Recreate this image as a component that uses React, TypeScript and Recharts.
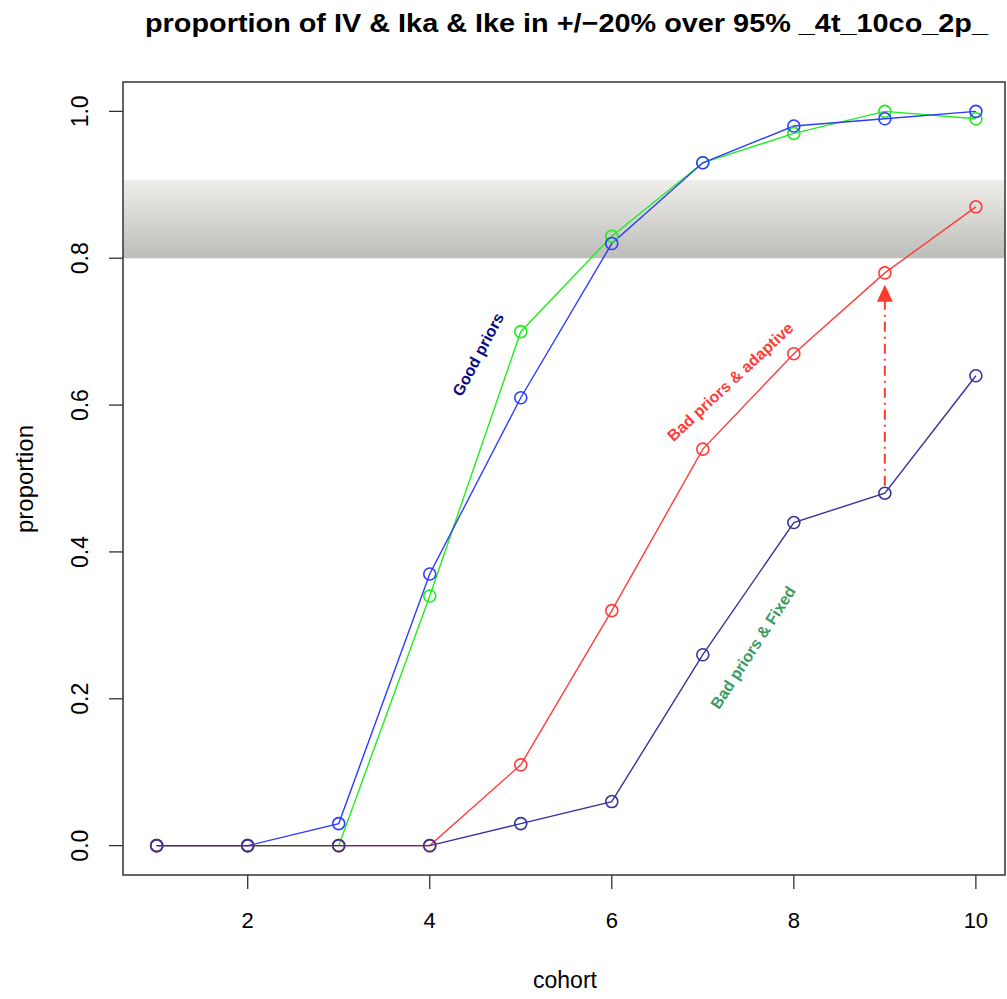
import {
  ComposedChart,
  Line,
  XAxis,
  YAxis,
  ReferenceArea,
  ReferenceLine,
  ReferenceDot,
} from 'recharts';

const cohorts = [1, 2, 3, 4, 5, 6, 7, 8, 9, 10];
const goodGreen = [0, 0, 0, 0.34, 0.7, 0.83, 0.93, 0.97, 1.0, 0.99];
const goodBlue = [0, 0, 0.03, 0.37, 0.61, 0.82, 0.93, 0.98, 0.99, 1.0];
const badAdaptive = [0, 0, 0, 0, 0.11, 0.32, 0.54, 0.67, 0.78, 0.87];
const badFixed = [0, 0, 0, 0, 0.03, 0.06, 0.26, 0.44, 0.48, 0.64];

const xTicks = [2, 4, 6, 8, 10];
const yTicks = [0, 0.2, 0.4, 0.6, 0.8, 1.0];

const bandLow = 0.8;
const bandHigh = 0.907;

const arrowX = 9;
const arrowFrom = 0.49;
const arrowTo = 0.764;

const labels = [
  { text: 'Good priors', x: 4.53, y: 0.669, angle: -62, color: '#0a0a80' },
  { text: 'Bad priors & adaptive', x: 7.3, y: 0.632, angle: -43, color: '#ff3b3b' },
  { text: 'Bad priors & Fixed', x: 7.55, y: 0.27, angle: -57, color: '#3c9a62' },
];

const data = cohorts.map((c, i) => ({
  cohort: c,
  green: goodGreen[i],
  blue: goodBlue[i],
  red: badAdaptive[i],
  navy: badFixed[i],
}));

const FONT = 'Liberation Sans, Arial, sans-serif';
const X_MIN = 0.63;
const X_MAX = 10.32;
const Y_MIN = -0.04;
const Y_MAX = 1.04;

const series = [
  { key: 'green', color: '#1fee1f' },
  { key: 'blue', color: '#2d3cff' },
  { key: 'red', color: '#ff3b3b' },
  { key: 'navy', color: '#34349a' },
];

function YTick(props: any) {
  const { y, payload } = props;
  return (
    <text
      x={80}
      y={y}
      transform={`rotate(-90, 80, ${y})`}
      textAnchor="middle"
      dy="0.36em"
      fontSize={23}
      fontFamily={FONT}
      fill="#000"
    >
      {payload.value.toFixed(1)}
    </text>
  );
}

function XTick(props: any) {
  const { x, payload } = props;
  return (
    <text x={x} y={920} textAnchor="middle" dy="0.36em" fontSize={22} fontFamily={FONT} fill="#000">
      {payload.value}
    </text>
  );
}

function makeLabel(l: (typeof labels)[number]) {
  return (p: any) => (
    <text
      x={p.cx}
      y={p.cy}
      transform={`rotate(${l.angle}, ${p.cx}, ${p.cy})`}
      textAnchor="middle"
      dy="0.36em"
      fontSize={16}
      fontWeight="bold"
      fontFamily={FONT}
      fill={l.color}
    >
      {l.text}
    </text>
  );
}

function ArrowHead(p: any) {
  const { cx, cy } = p;
  return <polygon points={`${cx},${cy} ${cx - 8},${cy + 17} ${cx + 8},${cy + 17}`} fill="#ff3b30" />;
}

export default function App() {
  return (
    <div style={{ position: 'absolute', left: 0, top: 0, width: 1007, height: 999, background: '#fff' }}>
      <ComposedChart
        width={1007}
        height={999}
        data={data}
        margin={{ top: 82, right: 2, bottom: 64, left: 63 }}
      >
        <defs>
          <linearGradient id="band" x1="0" y1="0" x2="0" y2="1">
            <stop offset="0%" stopColor="#efeeea" />
            <stop offset="100%" stopColor="#bdbdba" />
          </linearGradient>
        </defs>
        <text
          x={145}
          y={32}
          textAnchor="start"
          textLength={843}
          lengthAdjust="spacingAndGlyphs"
          fontSize={26}
          fontWeight="bold"
          fontFamily={FONT}
          fill="#000"
        >
          proportion of IV &amp; Ika &amp; Ike in +/−20% over 95% _4t_10co_2p_
        </text>
        <text x={565} y={988} textAnchor="middle" fontSize={23} fontFamily={FONT} fill="#000">
          cohort
        </text>
        <text
          x={24}
          y={479}
          transform="rotate(-90, 24, 479)"
          textAnchor="middle"
          dy="0.36em"
          fontSize={24}
          fontFamily={FONT}
          fill="#000"
        >
          proportion
        </text>
        <XAxis
          dataKey="cohort"
          type="number"
          domain={[X_MIN, X_MAX]}
          ticks={xTicks}
          allowDataOverflow
          axisLine={false}
          tickLine={{ stroke: '#333', strokeWidth: 1.3 }}
          tickSize={14}
          height={60}
          tick={<XTick />}
        />
        <YAxis
          type="number"
          domain={[Y_MIN, Y_MAX]}
          ticks={yTicks}
          allowDataOverflow
          axisLine={false}
          tickLine={{ stroke: '#333', strokeWidth: 1.3 }}
          tickSize={14}
          width={60}
          tick={<YTick />}
        />
        <ReferenceArea x1={X_MIN} x2={X_MAX} y1={bandLow} y2={bandHigh} fill="url(#band)" fillOpacity={1} stroke="none" />
        <ReferenceArea x1={X_MIN} x2={X_MAX} y1={Y_MIN} y2={Y_MAX} fill="none" stroke="#333" strokeWidth={1.5} />
        {series.map((s) => (
          <Line
            key={s.key}
            dataKey={s.key}
            stroke={s.color}
            strokeWidth={1.4}
            isAnimationActive={false}
            dot={{ r: 6, fill: 'none', stroke: s.color, strokeWidth: 1.6 }}
            activeDot={false}
          />
        ))}
        <ReferenceLine
          segment={[
            { x: arrowX, y: arrowFrom },
            { x: arrowX, y: arrowTo - 0.02 },
          ]}
          stroke="#ff3b30"
          strokeWidth={2}
          strokeDasharray="10 5 2 5"
        />
        <ReferenceDot x={arrowX} y={arrowTo} r={8} shape={ArrowHead} />
        {labels.map((l) => (
          <ReferenceDot key={l.text} x={l.x} y={l.y} r={1} shape={makeLabel(l)} />
        ))}
      </ComposedChart>
    </div>
  );
}
